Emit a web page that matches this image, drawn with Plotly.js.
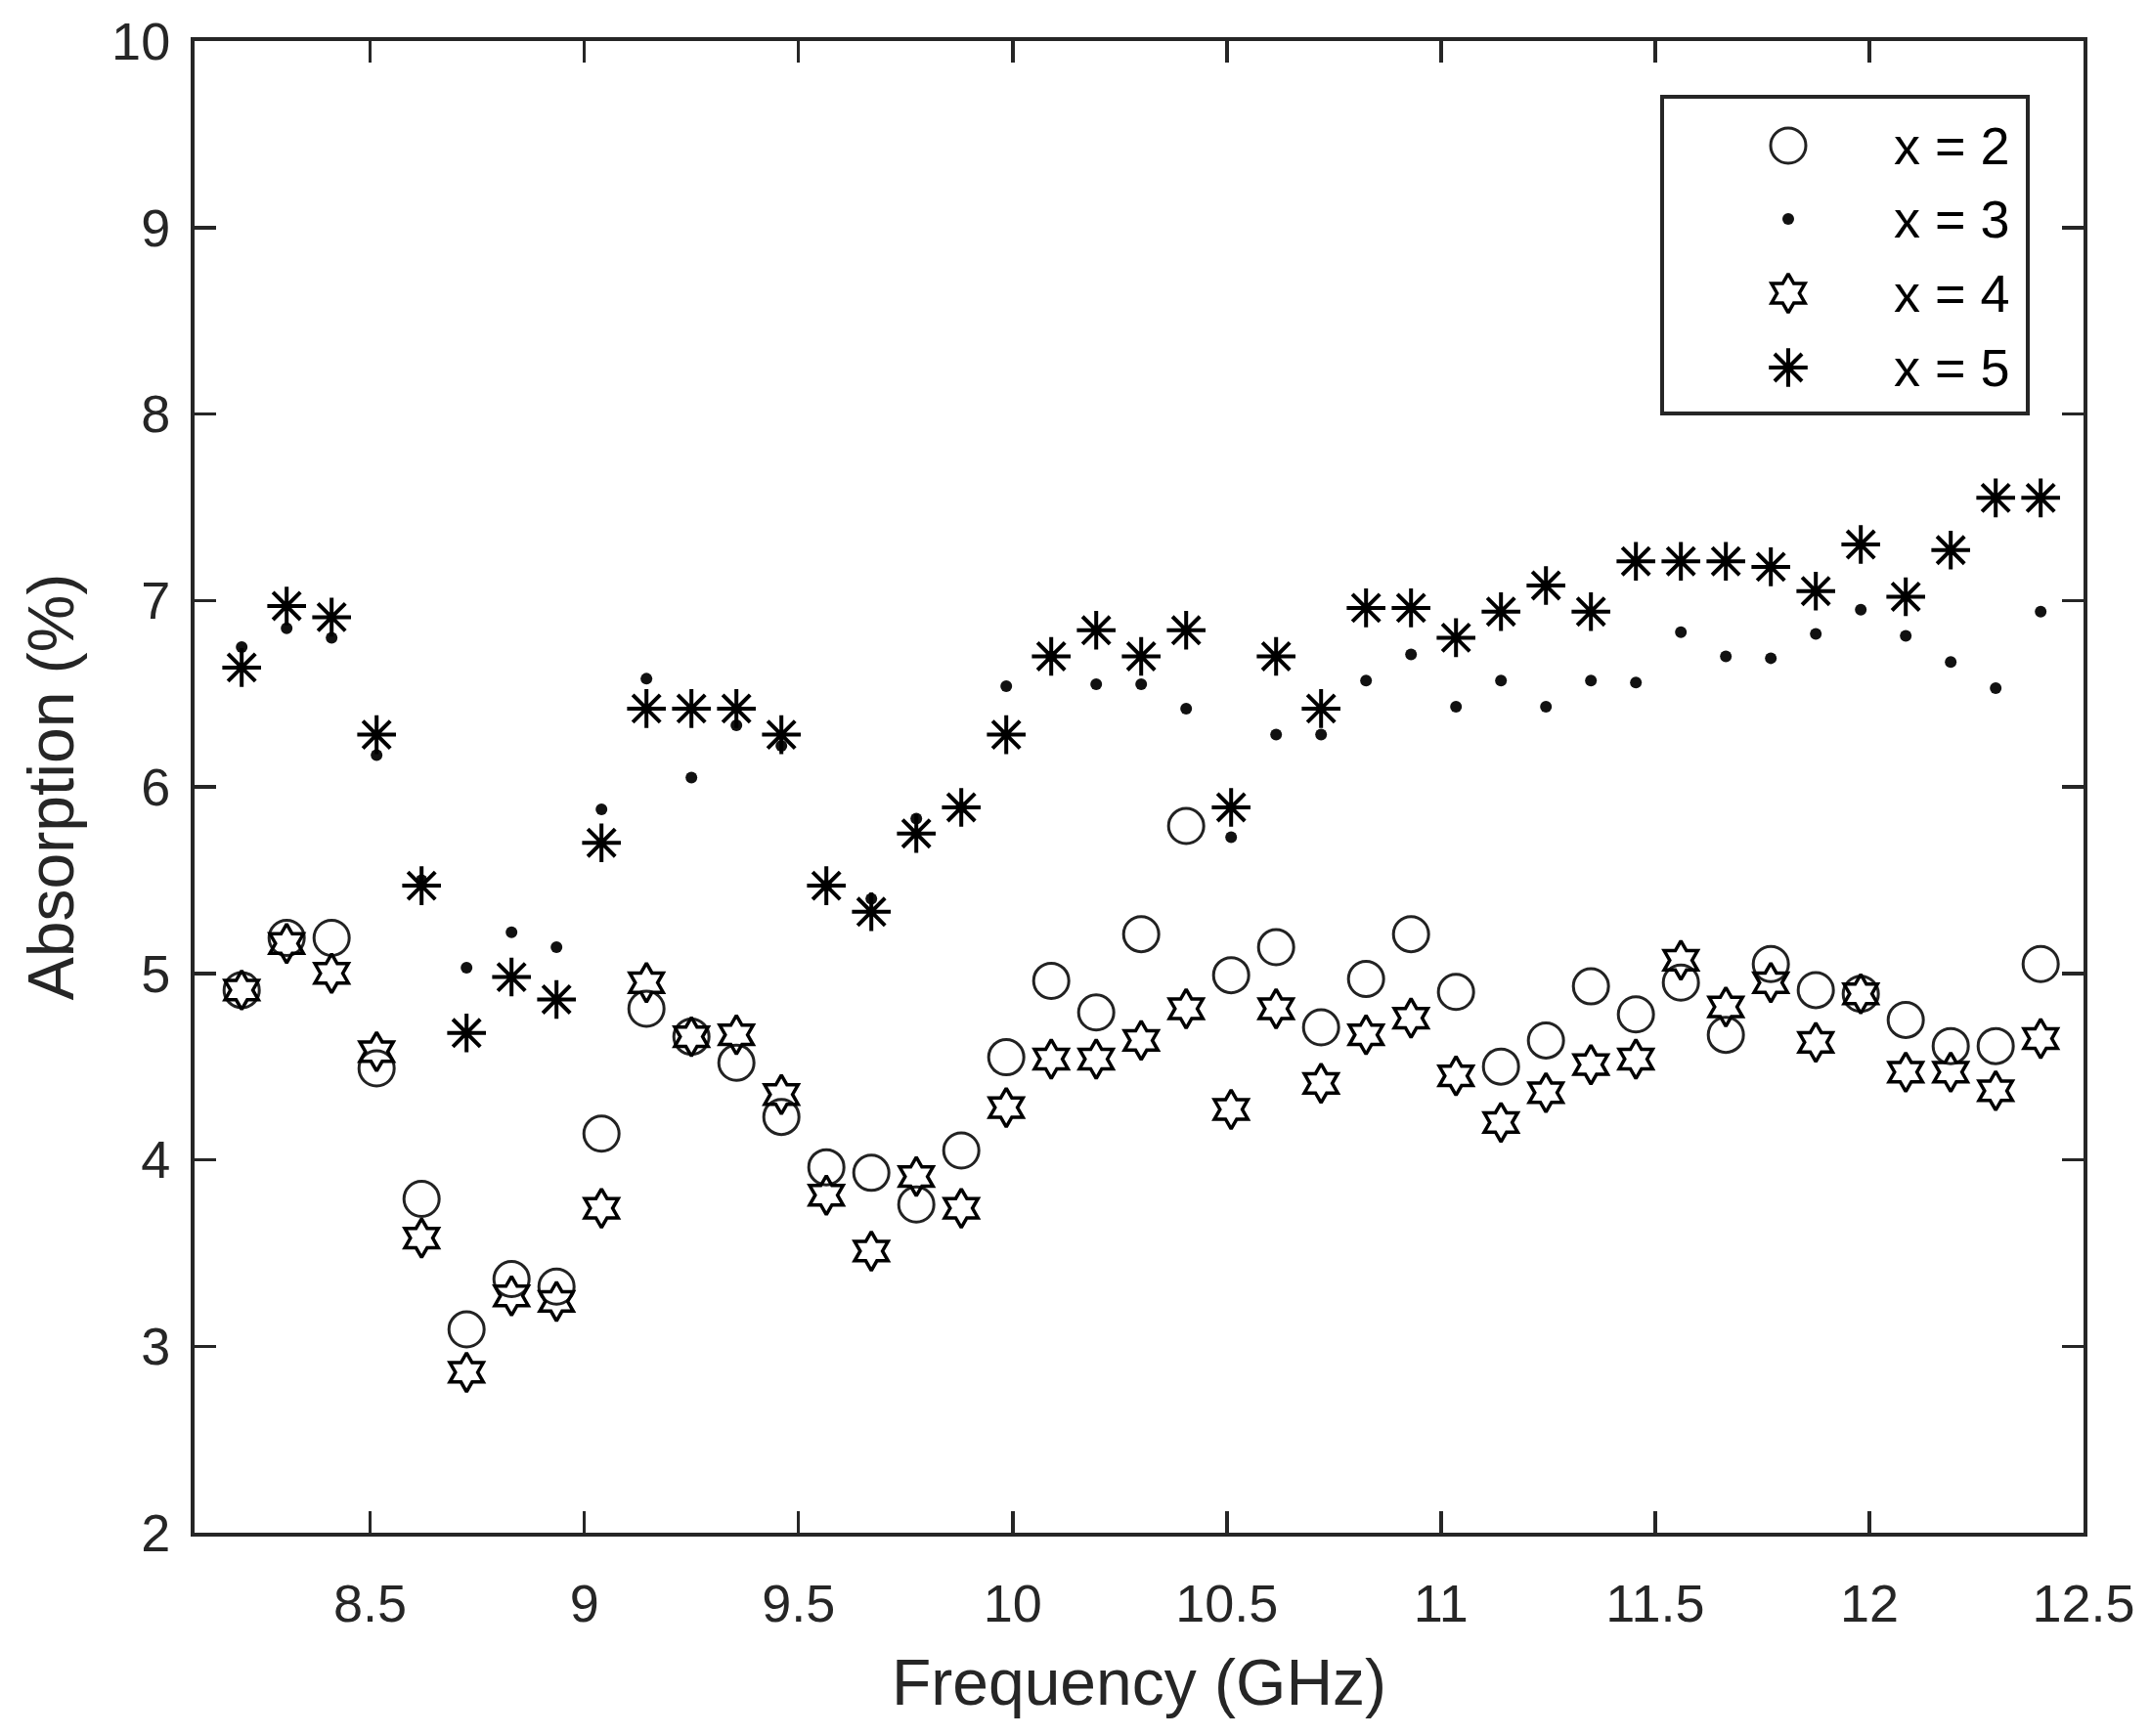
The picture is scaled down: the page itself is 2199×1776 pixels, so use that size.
<!DOCTYPE html>
<html>
<head>
<meta charset="utf-8">
<script src="https://cdn.plot.ly/plotly-3.0.1.min.js"></script>
<style>
  body { margin: 0; background: #fff; }
  #graph { width: 2199px; height: 1776px; }
</style>
</head>
<body>
<div id="graph"></div>
<script>
// frequency points (GHz), X-band sweep
var freq = [8.2, 8.305, 8.41, 8.515, 8.62, 8.725, 8.83, 8.935, 9.04, 9.145,
            9.25, 9.355, 9.46, 9.565, 9.67, 9.775, 9.88, 9.985, 10.09, 10.195,
            10.3, 10.405, 10.51, 10.615, 10.72, 10.825, 10.93, 11.035, 11.14, 11.245,
            11.35, 11.455, 11.56, 11.665, 11.77, 11.875, 11.98, 12.085, 12.19, 12.295,
            12.4];

// absorption (%) for each composition
var absX2 = [4.91, 5.19, 5.19, 4.49, 3.79, 3.09, 3.36, 3.32, 4.14, 4.81,
             4.66, 4.52, 4.23, 3.96, 3.93, 3.76, 4.05, 4.55, 4.96, 4.79,
             5.21, 5.79, 4.99, 5.14, 4.71, 4.97, 5.21, 4.90, 4.50, 4.64,
             4.93, 4.78, 4.95, 4.67, 5.05, 4.91, 4.89, 4.75, 4.61, 4.61,
             5.05];
var absX3 = [6.75, 6.85, 6.80, 6.17, 5.50, 5.03, 5.22, 5.14, 5.88, 6.58,
             6.05, 6.33, 6.22, 5.47, 5.40, 5.83, 5.89, 6.54, 6.70, 6.55,
             6.55, 6.42, 5.73, 6.28, 6.28, 6.57, 6.71, 6.43, 6.57, 6.43,
             6.57, 6.56, 6.83, 6.70, 6.69, 6.82, 6.95, 6.81, 6.67, 6.53,
             6.94];
var absX4 = [4.91, 5.16, 5.00, 4.58, 3.58, 2.86, 3.27, 3.24, 3.74, 4.95,
             4.66, 4.67, 4.35, 3.81, 3.51, 3.91, 3.74, 4.28, 4.54, 4.54,
             4.64, 4.81, 4.27, 4.81, 4.41, 4.67, 4.76, 4.45, 4.20, 4.36,
             4.51, 4.54, 5.07, 4.82, 4.95, 4.63, 4.89, 4.47, 4.47, 4.37,
             4.65];
var absX5 = [6.64, 6.97, 6.91, 6.28, 5.47, 4.68, 4.98, 4.86, 5.70, 6.42,
             6.42, 6.42, 6.28, 5.47, 5.33, 5.75, 5.89, 6.28, 6.70, 6.84,
             6.70, 6.84, 5.89, 6.70, 6.42, 6.96, 6.96, 6.80, 6.94, 7.08,
             6.94, 7.21, 7.21, 7.21, 7.18, 7.05, 7.30, 7.02, 7.27, 7.55,
             7.55];

var names = ['x = 2', 'x = 3', 'x = 4', 'x = 5'];

var axisColor = '#262626';
var fontFam = '"Liberation Sans", Arial, sans-serif';

// marker styles, shared by the data and the legend keys
var markers = [
  {symbol: 'circle-open', size: 36, color: '#222', line: {width: 3, color: '#222'}},
  {symbol: 'circle', size: 12, color: '#111'},
  {symbol: 'hexagram-open', size: 30, color: '#000', line: {width: 3.5, color: '#000'}},
  {symbol: 'asterisk-open', size: 33, color: '#000', line: {width: 4, color: '#000'}}
];
var series = [absX2, absX3, absX4, absX5];

// legend box is drawn on a pixel-scaled overlay axis (plotly shrinks legend symbols)
var plotL = 199, plotR = 2131, plotT = 42, plotB = 1568;
var legBox = {x0: 1700, x1: 2074, y0: 99, y1: 423};
var legKeyX = 1829, legTextX = 1935;
var legRowY = [149, 224, 300, 376];

var data = [];
var annotations = [];
for (var i = 0; i < series.length; i++) {
  data.push({
    x: freq, y: series[i], name: names[i], type: 'scatter', mode: 'markers',
    marker: markers[i], showlegend: false
  });
}
for (var i = 0; i < series.length; i++) {
  data.push({
    x: [legKeyX], y: [legRowY[i]], xaxis: 'x2', yaxis: 'y2',
    type: 'scatter', mode: 'markers', marker: markers[i],
    showlegend: false, hoverinfo: 'skip'
  });
  annotations.push({
    text: names[i], xref: 'x2', yref: 'y2', x: legTextX, y: legRowY[i],
    xanchor: 'left', yanchor: 'middle', showarrow: false,
    font: {family: fontFam, size: 54, color: '#000'}
  });
}
annotations.push({
  text: 'Absorption (%)', textangle: -90,
  xref: 'paper', yref: 'paper', x: -0.076, y: 0.5,
  xanchor: 'center', yanchor: 'middle', showarrow: false,
  font: {family: fontFam, size: 66, color: axisColor}
});

var axisBase = {
  showgrid: false, zeroline: false,
  showline: true, mirror: 'ticks', linecolor: axisColor, linewidth: 4,
  ticks: 'inside', ticklen: 22, tickwidth: 3.5, tickcolor: axisColor,
  tickfont: {family: fontFam, size: 54, color: axisColor}
};

var layout = {
  width: 2199, height: 1776,
  margin: {l: plotL, r: 2199 - plotR, t: plotT, b: 1776 - plotB, pad: 0},
  paper_bgcolor: '#fff', plot_bgcolor: '#fff',
  font: {family: fontFam, color: axisColor},
  showlegend: false,
  xaxis: Object.assign({}, axisBase, {
    range: [8.09, 12.5], tick0: 8.5, dtick: 0.5,
    ticklabelstandoff: 22,
    title: {text: 'Frequency (GHz)', font: {family: fontFam, size: 66, color: axisColor}, standoff: 30}
  }),
  yaxis: Object.assign({}, axisBase, {
    range: [2, 10], tick0: 2, dtick: 1,
    ticklabelstandoff: 10
  }),
  xaxis2: {overlaying: 'x', range: [plotL, plotR], visible: false, fixedrange: true},
  yaxis2: {overlaying: 'y', range: [plotB, plotT], visible: false, fixedrange: true},
  shapes: [{
    type: 'rect', xref: 'x2', yref: 'y2',
    x0: legBox.x0, x1: legBox.x1, y0: legBox.y0, y1: legBox.y1,
    line: {color: axisColor, width: 4}, fillcolor: 'rgba(0,0,0,0)', layer: 'below'
  }],
  annotations: annotations
};

Plotly.newPlot('graph', data, layout, {staticPlot: true});
</script>
</body>
</html>
